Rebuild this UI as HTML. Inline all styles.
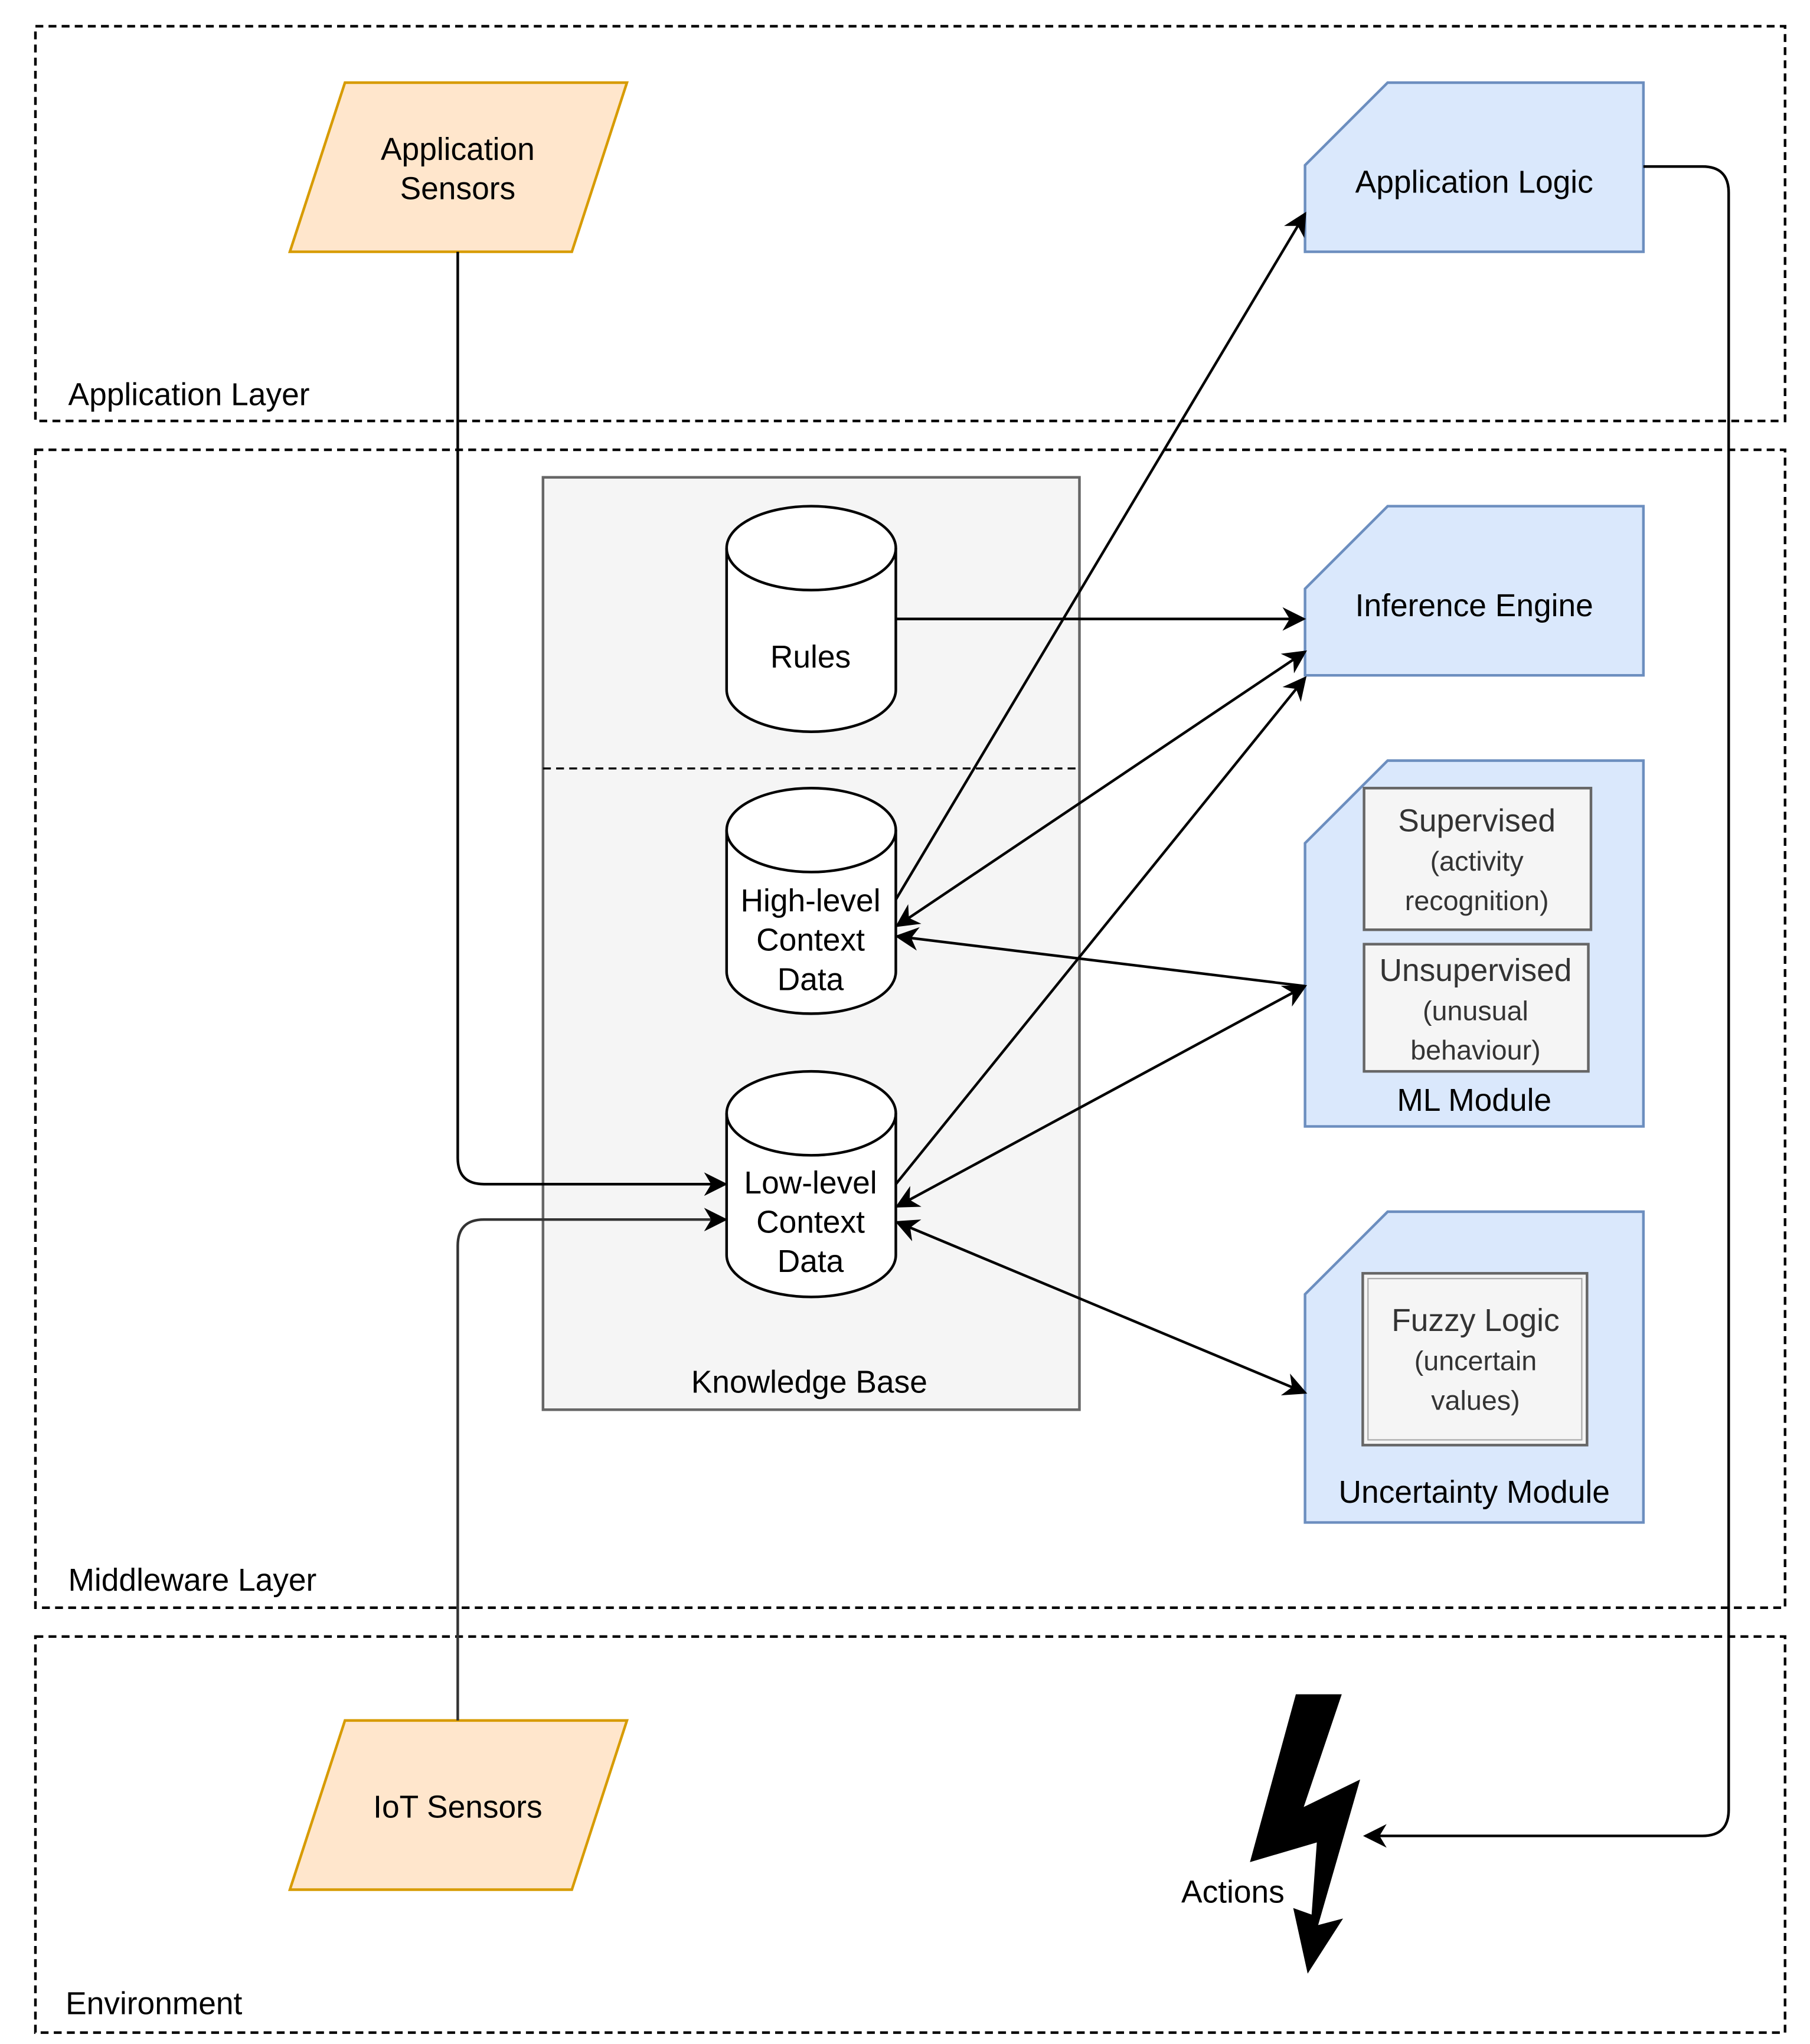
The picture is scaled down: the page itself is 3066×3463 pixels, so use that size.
<!DOCTYPE html>
<html><head><meta charset="utf-8"><style>
html,body{margin:0;padding:0;background:#fff;}
svg{display:block;}
text{font-family:"Liberation Sans",Arial,sans-serif;font-size:24px;fill:#000;}
.g{fill:#333;}
.s{font-size:21px;}
</style></head><body>
<svg width="3066" height="3463" viewBox="0 0 1380 1558.7" xmlns="http://www.w3.org/2000/svg">
<defs>
<marker id="a" viewBox="0 0 10 10" refX="9" refY="5" markerWidth="9" markerHeight="9" orient="auto-start-reverse" markerUnits="userSpaceOnUse">
<path d="M0,0 L10,5 L0,10 L3,5 z" fill="#000"/></marker>
<marker id="b" viewBox="0 0 10 10" refX="9" refY="5" markerWidth="18" markerHeight="18" orient="auto-start-reverse" markerUnits="userSpaceOnUse">
<path d="M0,0 L10,5 L0,10 L3,5 z" fill="#000"/></marker>
</defs>
<g fill="none" stroke="#000" stroke-width="2" stroke-dasharray="6,4">
<rect x="27" y="20" width="1334" height="301"/>
<rect x="27" y="343" width="1334" height="883"/>
<rect x="27" y="1248" width="1334" height="302"/>
</g>
<text x="52" y="309">Application Layer</text>
<text x="52" y="1213">Middleware Layer</text>
<text x="50" y="1536">Environment</text>

<rect x="414" y="364" width="409" height="711" fill="#f5f5f5" stroke="#666" stroke-width="2"/>
<line x1="414" y1="586" x2="823" y2="586" stroke="#000" stroke-width="1.5" stroke-dasharray="6,4"/>
<text x="617" y="1062" text-anchor="middle">Knowledge Base</text>

<polygon points="263,63 478,63 436,192 221,192" fill="#ffe6cc" stroke="#d79b00" stroke-width="2"/>
<text x="349" y="122" text-anchor="middle">Application</text>
<text x="349" y="152" text-anchor="middle">Sensors</text>
<polygon points="263,1312 478,1312 436,1441 221,1441" fill="#ffe6cc" stroke="#d79b00" stroke-width="2"/>
<text x="349" y="1386" text-anchor="middle">IoT Sensors</text>

<g fill="#fff" stroke="#000" stroke-width="2">
<path d="M554,418 A64.5,32 0 0 1 683,418 V526 A64.5,32 0 0 1 554,526 Z"/><path d="M554,418 A64.5,32 0 0 0 683,418" fill="none"/>
<path d="M554,633 A64.5,32 0 0 1 683,633 V741 A64.5,32 0 0 1 554,741 Z"/><path d="M554,633 A64.5,32 0 0 0 683,633" fill="none"/>
<path d="M554,849 A64.5,32 0 0 1 683,849 V957 A64.5,32 0 0 1 554,957 Z"/><path d="M554,849 A64.5,32 0 0 0 683,849" fill="none"/>
</g>
<text x="618" y="509" text-anchor="middle">Rules</text>
<text x="618" y="695" text-anchor="middle">High-level</text>
<text x="618" y="725" text-anchor="middle">Context</text>
<text x="618" y="755" text-anchor="middle">Data</text>
<text x="618" y="910" text-anchor="middle">Low-level</text>
<text x="618" y="940" text-anchor="middle">Context</text>
<text x="618" y="970" text-anchor="middle">Data</text>

<g fill="#dae8fc" stroke="#6c8ebf" stroke-width="2">
<path d="M1058,63 H1253 V192 H995 V126 Z"/>
<path d="M1058,386 H1253 V515 H995 V449 Z"/>
<path d="M1058,580 H1253 V859 H995 V643 Z"/>
<path d="M1058,924 H1253 V1161 H995 V987 Z"/>
</g>
<text x="1124" y="147" text-anchor="middle">Application Logic</text>
<text x="1124" y="470" text-anchor="middle">Inference Engine</text>
<text x="1124" y="847" text-anchor="middle">ML Module</text>
<text x="1124" y="1146" text-anchor="middle">Uncertainty Module</text>

<g fill="#f5f5f5" stroke="#666" stroke-width="2">
<rect x="1040" y="601" width="173" height="108"/>
<rect x="1040" y="720" width="171" height="97"/>
<rect x="1039" y="971" width="171" height="131"/>
<rect x="1043" y="975" width="163" height="123" fill="none" stroke="#aaa" stroke-width="1"/>
</g>
<text class="g" x="1126" y="634" text-anchor="middle">Supervised</text>
<text class="g s" x="1126" y="664" text-anchor="middle">(activity</text>
<text class="g s" x="1126" y="694" text-anchor="middle">recognition)</text>
<text class="g" x="1125" y="748" text-anchor="middle">Unsupervised</text>
<text class="g s" x="1125" y="778" text-anchor="middle">(unusual</text>
<text class="g s" x="1125" y="808" text-anchor="middle">behaviour)</text>
<text class="g" x="1125" y="1015" text-anchor="middle">Fuzzy Logic</text>
<text class="g s" x="1125" y="1045" text-anchor="middle">(uncertain</text>
<text class="g s" x="1125" y="1075" text-anchor="middle">values)</text>

<g fill="none" stroke="#000" stroke-width="2">
<path d="M349,192 V883 Q349,903 369,903 H553" marker-end="url(#b)"/>
<path d="M349,1312 V950 Q349,930 369,930 H553" marker-end="url(#b)" stroke="#333"/>
<line x1="683" y1="472" x2="994" y2="472" marker-end="url(#b)"/>
<line x1="683" y1="686" x2="995" y2="163" marker-end="url(#b)"/>
<line x1="684" y1="706" x2="995" y2="497" marker-start="url(#b)" marker-end="url(#b)"/>
<line x1="683" y1="903" x2="995" y2="517" marker-end="url(#b)"/>
<line x1="995" y1="752" x2="684" y2="714" marker-end="url(#b)"/>
<line x1="684" y1="920" x2="995" y2="752" marker-start="url(#b)" marker-end="url(#b)"/>
<line x1="684" y1="932" x2="995" y2="1062" marker-start="url(#b)" marker-end="url(#b)"/>
<path d="M1253,127 H1298 Q1318,127 1318,147 V1380 Q1318,1400 1298,1400 H1041" marker-end="url(#b)"/>
</g>
<polygon points="988,1292 1023,1292 994,1378 1037,1357 1005,1468 1024,1463 997,1505 986,1455 1000,1460 1004,1405 953,1420" fill="#000"/>
<text x="940" y="1451" text-anchor="middle">Actions</text>
</svg>
</body></html>
